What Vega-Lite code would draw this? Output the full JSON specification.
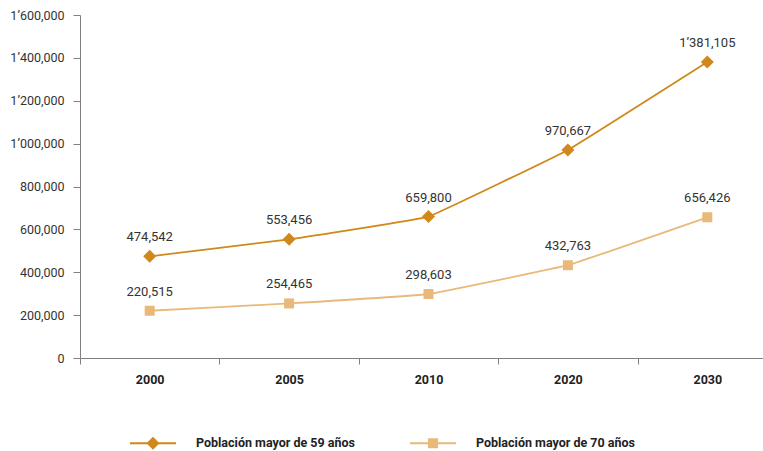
{
  "$schema": "https://vega.github.io/schema/vega-lite/v6.json",
  "width": 683,
  "height": 343,
  "autosize": {"type": "none"},
  "padding": {"left": 80, "top": 15, "right": 0, "bottom": 93},
  "background": "white",
  "config": {
    "font": "Roboto, sans-serif",
    "view": {"stroke": null}
  },
  "data": {
    "values": [
      {"anio": "2000", "serie": "Población mayor de 59 años", "valor": 474542},
      {"anio": "2005", "serie": "Población mayor de 59 años", "valor": 553456},
      {"anio": "2010", "serie": "Población mayor de 59 años", "valor": 659800},
      {"anio": "2020", "serie": "Población mayor de 59 años", "valor": 970667},
      {"anio": "2030", "serie": "Población mayor de 59 años", "valor": 1381105},
      {"anio": "2000", "serie": "Población mayor de 70 años", "valor": 220515},
      {"anio": "2005", "serie": "Población mayor de 70 años", "valor": 254465},
      {"anio": "2010", "serie": "Población mayor de 70 años", "valor": 298603},
      {"anio": "2020", "serie": "Población mayor de 70 años", "valor": 432763},
      {"anio": "2030", "serie": "Población mayor de 70 años", "valor": 656426}
    ]
  },
  "transform": [
    {"calculate": "datum.valor >= 1000000 ? replace(format(datum.valor, ','), ',', '’') : format(datum.valor, ',')", "as": "etiqueta"}
  ],
  "encoding": {
    "x": {
      "field": "anio",
      "type": "ordinal",
      "scale": {"type": "band", "range": [0, 697], "paddingInner": 0, "paddingOuter": 0},
      "axis": {
        "title": null,
        "labelAngle": 0,
        "tickBand": "extent",
        "tickSize": 6,
        "labelPadding": 9,
        "labelFontSize": 12.5,
        "labelFontWeight": "bold",
        "labelColor": "#222222",
        "domainColor": "#808080",
        "tickColor": "#808080",
        "grid": false
      }
    },
    "y": {
      "field": "valor",
      "type": "quantitative",
      "scale": {"domain": [0, 1600000], "nice": false},
      "axis": {
        "title": null,
        "values": [0, 200000, 400000, 600000, 800000, 1000000, 1200000, 1400000, 1600000],
        "labelExpr": "datum.value >= 1000000 ? replace(format(datum.value, ','), ',', '’') : format(datum.value, ',')",
        "tickSize": 7,
        "labelPadding": 9,
        "labelFontSize": 12.5,
        "labelColor": "#333333",
        "domainColor": "#808080",
        "tickColor": "#808080",
        "grid": false
      }
    }
  },
  "layer": [
    {
      "mark": {"type": "line", "interpolate": "cardinal", "tension": 0.8, "strokeWidth": 1.8},
      "encoding": {
        "color": {
          "field": "serie",
          "type": "nominal",
          "scale": {"domain": ["Población mayor de 59 años", "Población mayor de 70 años"], "range": ["#D0881A", "#E9B97A"]},
          "legend": {
            "orient": "none",
            "legendX": 50,
            "legendY": 405,
            "direction": "horizontal",
            "title": null,
            "symbolSize": 2116,
            "symbolStrokeWidth": 0,
            "labelOffset": 20,
            "labelFontSize": 12.5,
            "labelFontWeight": "bold",
            "labelColor": "#222222",
            "columnPadding": 55,
            "labelLimit": 300
          }
        }
      }
    },
    {
      "transform": [{"filter": "datum.serie === 'Población mayor de 59 años'"}],
      "mark": {"type": "point", "filled": true, "opacity": 1, "size": 169, "shape": "diamond", "color": "#D0881A"}
    },
    {
      "transform": [{"filter": "datum.serie === 'Población mayor de 70 años'"}],
      "mark": {"type": "point", "filled": true, "opacity": 1, "size": 100, "shape": "square", "color": "#E9B97A"}
    },
    {
      "mark": {"type": "point", "filled": true, "opacity": 1, "size": 0},
      "encoding": {
        "color": {
          "field": "serie",
          "type": "nominal",
          "scale": {"domain": ["Población mayor de 59 años", "Población mayor de 70 años"], "range": ["#D0881A", "#E9B97A"]},
          "legend": {
            "orient": "none",
            "legendX": 50,
            "legendY": 405,
            "direction": "horizontal",
            "title": null,
            "symbolSize": 2116,
            "symbolStrokeWidth": 0,
            "labelOffset": 20,
            "labelFontSize": 12.5,
            "labelFontWeight": "bold",
            "labelColor": "#222222",
            "columnPadding": 55,
            "labelLimit": 300
          }
        },
        "shape": {
          "field": "serie",
          "type": "nominal",
          "scale": {
            "domain": ["Población mayor de 59 años", "Población mayor de 70 años"],
            "range": [
              "M-1,-0.044H-0.24L0,-0.28L0.24,-0.044H1V0.044H0.24L0,0.28L-0.24,0.044H-1Z",
              "M-1,-0.044H-0.22V-0.22H0.22V-0.044H1V0.044H0.22V0.22H-0.22V0.044H-1Z"
            ]
          },
          "legend": null
        }
      }
    },
    {
      "mark": {"type": "text", "dy": -19, "baseline": "middle", "fontSize": 13, "color": "#333333"},
      "encoding": {
        "text": {"field": "etiqueta", "type": "nominal"}
      }
    }
  ]
}
